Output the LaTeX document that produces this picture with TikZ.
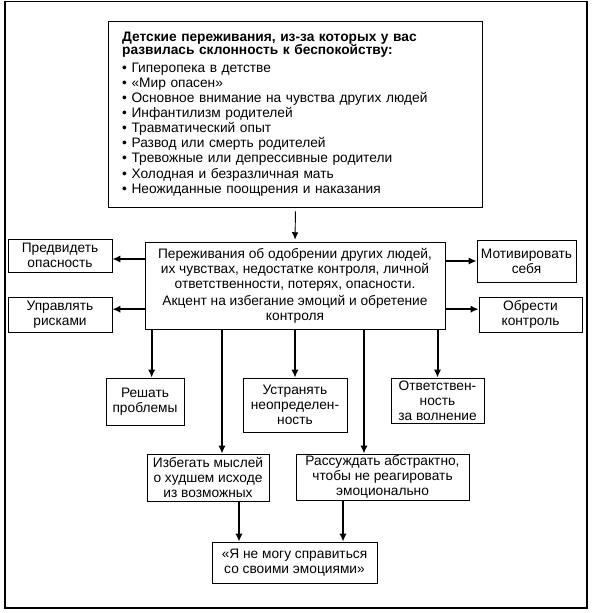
\documentclass[tikz,border=0pt]{standalone}
\usepackage{fontspec}
\setmainfont{Liberation Sans}
\usetikzlibrary{arrows.meta}

\begin{document}
\begin{tikzpicture}[x=0.75pt, y=-0.75pt,
	box/.style={draw, line width=0.6pt, align=center, inner sep=1pt,
		font=\fontsize{10.3}{11.3}\selectfont},
	thinarrow/.style={line width=0.7pt, arrows={-{Latex[length=5.5pt,width=5pt]}}},
	thickarrow/.style={line width=1.5pt, arrows={-{Latex[length=6pt,width=5.5pt]}}}]
	\useasboundingbox (0,0) rectangle (593,613);
	\draw [line width=0.8pt] (5,1.5) rectangle (587,608);
	% top: childhood
	\node [box, align=left, text width=260pt, inner xsep=10.5pt, minimum height=139.5pt,
		font=\fontsize{10.3}{11.3}\selectfont] (child) at (295.5,114)
		{\textbf{Детские переживания, из-за которых у вас}\\[-1.8pt]
		\textbf{развилась склонность к беспокойству:}\\[2.5pt]
		• Гиперопека в детстве\\
		• «Мир опасен»\\
		• Основное внимание на чувства других людей\\
		• Инфантилизм родителей\\
		• Травматический опыт\\
		• Развод или смерть родителей\\
		• Тревожные или депрессивные родители\\
		• Холодная и безразличная мать\\
		• Неожиданные поощрения и наказания};
	% centre
	\node [box, minimum width=225pt, minimum height=65.25pt] (worry) at (295,285.5)
		{Переживания об одобрении других людей,\\
		их чувствах, недостатке контроля, личной\\
		ответственности, потерях, опасности.\\[1.5pt]
		Акцент на избегание эмоций и обретение\\
		контроля};
	% sides
	\node [box, minimum width=78pt, minimum height=24.75pt] (danger) at (60,255.5) {Предвидеть\\опасность};
	\node [box, minimum width=78pt, minimum height=26.25pt] (risk) at (60,314.5) {Управлять\\рисками};
	\node [box, minimum width=74.25pt, minimum height=31.5pt] (motive) at (526.5,261) {Мотивировать\\себя};
	\node [box, minimum width=77.25pt, minimum height=26.25pt] (control) at (530.5,314.5) {Обрести\\контроль};
	% below
	\node [box, minimum width=58.5pt, minimum height=35.25pt] (solve) at (145,401.5) {Решать\\проблемы};
	\node [box, minimum width=78pt, minimum height=40.5pt] (doubt) at (295,405) {Устранять\\неопределен-\\ность};
	\node [box, minimum width=69.75pt, minimum height=33.75pt] (duty) at (437.5,400.5) {Ответствен-\\ность\\за волнение};
	\node [box, minimum width=91.5pt, minimum height=35.25pt] (avoid) at (208,477.5) {Избегать мыслей\\о худшем исходе\\из возможных};
	\node [box, minimum width=129.75pt, minimum height=34.5pt] (reason) at (382.5,477) {Рассуждать абстрактно,\\чтобы не реагировать\\эмоционально};
	\node [box, minimum width=123.75pt, minimum height=30.75pt] (cope) at (294.5,562.5) {«Я не могу справиться\\со своими эмоциями»};

	\draw [thinarrow, shorten <=3pt, shorten >=1.5pt] (child.south) -- (worry.north);
	\draw [thickarrow] ([yshift=-2.6pt]worry.west |- danger.east) -- ([yshift=-2.6pt]danger.east);
	\draw [thickarrow] ([yshift=4pt]worry.west |- risk.east) -- ([yshift=4pt]risk.east);
	\draw [thickarrow] (worry.east |- motive.west) -- (motive.west);
	\draw [thickarrow] ([yshift=4pt]worry.east |- control.west) -- ([yshift=4pt]control.west);
	\draw [thickarrow] ([xshift=5pt]worry.south -| solve.north) -- ([xshift=5pt]solve.north);
	\draw [thickarrow] (worry.south -| doubt.north) -- (doubt.north);
	\draw [thickarrow] (worry.south -| duty.north) -- (duty.north);
	\draw [thickarrow] ([xshift=10.5pt]worry.south -| avoid.north) -- ([xshift=10.5pt]avoid.north);
	\draw [thickarrow] ([xshift=-13.9pt]worry.south -| reason.north) -- ([xshift=-13.9pt]reason.north);
	\draw [thickarrow] ([xshift=23.25pt]avoid.south) -- ([xshift=23.25pt]avoid.south |- cope.north);
	\draw [thickarrow] ([xshift=-29.6pt]reason.south) -- ([xshift=-29.6pt]reason.south |- cope.north);
\end{tikzpicture}
\end{document}
